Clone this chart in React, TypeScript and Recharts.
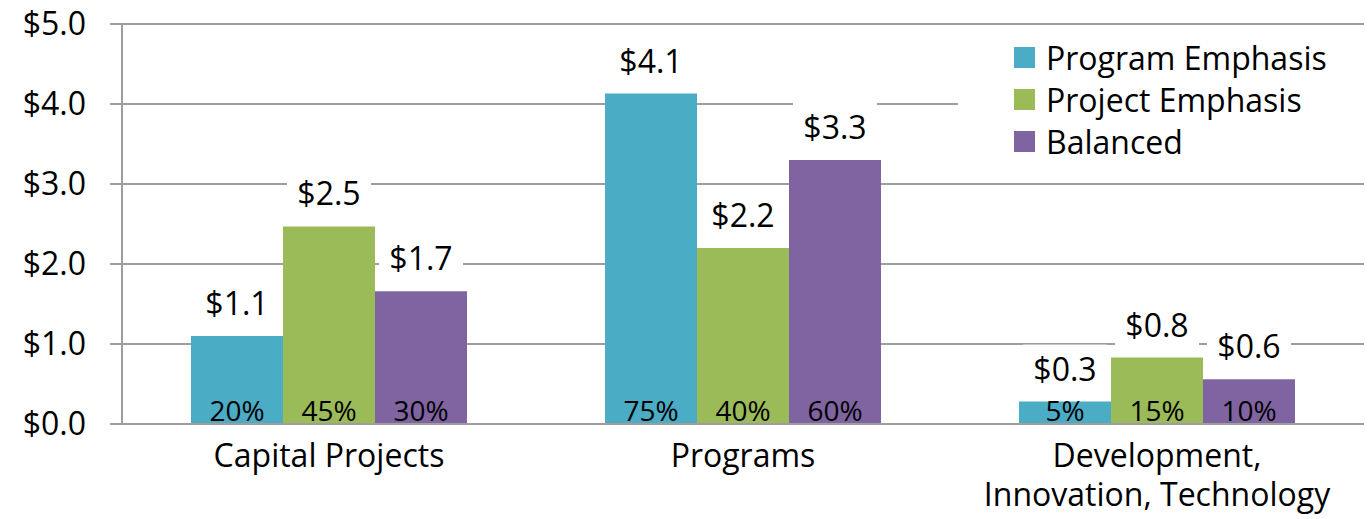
import { BarChart, Bar, XAxis, YAxis, CartesianGrid, LabelList } from "recharts"

const categories = ["Capital Projects", "Programs", "Development, Innovation, Technology"]
const categoryLines = [["Capital Projects"], ["Programs"], ["Development,", "Innovation, Technology"]]
const programEmphasis = [1.1, 4.13, 0.28]
const projectEmphasis = [2.47, 2.2, 0.83]
const balanced = [1.66, 3.3, 0.56]
const programShare = ["20%", "75%", "5%"]
const projectShare = ["45%", "40%", "15%"]
const balancedShare = ["30%", "60%", "10%"]
const yTicks = [0, 1, 2, 3, 4, 5]

const series = [
  { key: "program", name: "Program Emphasis", color: "#4BACC6" },
  { key: "project", name: "Project Emphasis", color: "#9BBB59" },
  { key: "balanced", name: "Balanced", color: "#8064A2" },
]

const data = categories.map((c, i) => ({
  category: c,
  program: programEmphasis[i],
  project: projectEmphasis[i],
  balanced: balanced[i],
  programPct: programShare[i],
  projectPct: projectShare[i],
  balancedPct: balancedShare[i],
}))

const FONT = "'Open Sans', sans-serif"
const GRID = "#9e9e9e"
const FS = 32

const ValueLabel = (props: any) => {
  const { x, y, width, value } = props
  const cx = x + width / 2
  const base = y - 21
  return (
    <g>
      <rect x={cx - 42} y={base - 36} width={84} height={46} fill="#fff" />
      <text x={cx} y={base} textAnchor="middle" fontSize={FS} fill="#000" fontFamily={FONT}>
        {`$${Number(value).toFixed(1)}`}
      </text>
    </g>
  )
}

const PctLabel = (props: any) => {
  const { x, y, width, height, value } = props
  return (
    <text x={x + width / 2} y={y + height - 3} textAnchor="middle" fontSize={28} fill="#000" fontFamily={FONT}>
      {value}
    </text>
  )
}

// one <text> per line so the two lines of the long category don't collide
const CategoryTick = (props: any) => {
  const { x, y, payload } = props
  const lines = categoryLines[payload.index] || [payload.value]
  return (
    <g>
      {lines.map((l, i) => (
        <text key={i} x={x} y={y + 35 + i * 39} textAnchor="middle" fontSize={FS} fill="#000" fontFamily={FONT}>
          {l}
        </text>
      ))}
    </g>
  )
}

export default function App() {
  return (
    <div style={{ position: "relative", width: 1372, height: 519 }}>
      <style>{`body{margin:0;background:#fff}`}</style>
      <BarChart
        width={1372}
        height={519}
        data={data}
        margin={{ top: 24, right: 8, bottom: 0, left: 0 }}
        barCategoryGap={69}
        barGap={0}
      >
        <CartesianGrid vertical={false} stroke={GRID} strokeWidth={2} />
        <XAxis
          dataKey="category"
          height={95}
          tickLine={false}
          axisLine={{ stroke: GRID, strokeWidth: 2 }}
          tick={<CategoryTick />}
          interval={0}
        />
        <YAxis
          width={122}
          domain={[0, 5]}
          ticks={yTicks}
          tickFormatter={(v: number) => `$${v.toFixed(1)}`}
          tickSize={12}
          tickMargin={24}
          tickLine={{ stroke: GRID, strokeWidth: 2 }}
          axisLine={{ stroke: GRID, strokeWidth: 2 }}
          tick={{ fill: "#000", fontSize: FS, fontFamily: FONT }}
        />
        {series.map((s) => (
          <Bar key={s.key} dataKey={s.key} name={s.name} fill={s.color} isAnimationActive={false}>
            <LabelList dataKey={s.key} content={<ValueLabel />} />
            <LabelList dataKey={`${s.key}Pct`} content={<PctLabel />} />
          </Bar>
        ))}
      </BarChart>
      <div
        style={{
          position: "absolute",
          top: 30,
          left: 958,
          width: 406,
          height: 145,
          background: "#fff",
          paddingTop: 6,
          boxSizing: "border-box",
        }}
      >
        {series.map((s) => (
          <div key={s.key} style={{ display: "flex", alignItems: "center", height: 42, fontFamily: FONT, fontSize: FS }}>
            <span style={{ width: 21, height: 21, background: s.color, marginLeft: 56, marginRight: 11 }} />
            <span style={{ color: "#000" }}>{s.name}</span>
          </div>
        ))}
      </div>
    </div>
  )
}
